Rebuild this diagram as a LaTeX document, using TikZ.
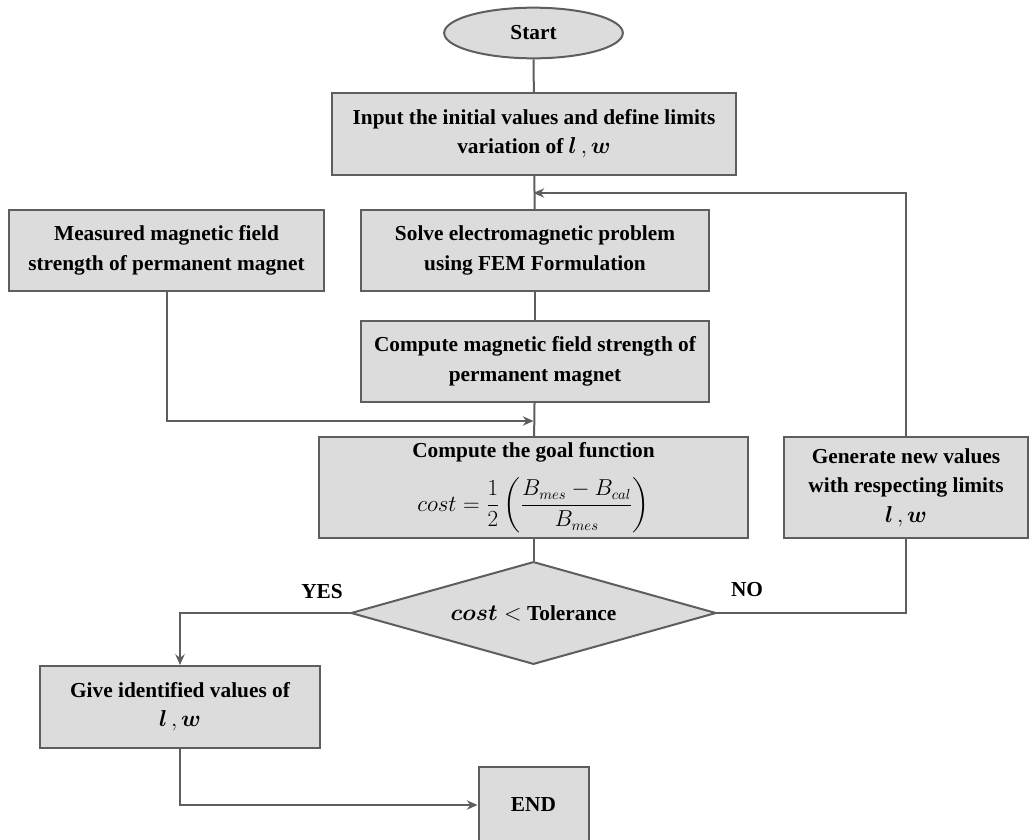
\documentclass[tikz,border=0pt]{standalone}
\usepackage{amsmath,bm}
\usepackage{fontspec}
\setmainfont{Liberation Serif}
\usetikzlibrary{shapes.geometric,arrows.meta}
\definecolor{linegray}{HTML}{5E5E5E}
\definecolor{boxgray}{HTML}{DCDCDC}
\begin{document}
\begin{tikzpicture}[x=0.75pt,y=-0.75pt,
    every node/.style={font=\fontsize{16}{22}\selectfont\bfseries, align=center},
    box/.style={rectangle, draw=linegray, fill=boxgray, line width=1.5pt, inner sep=0pt},
    startend/.style={ellipse, draw=linegray, fill=boxgray, line width=1.5pt, inner sep=0pt},
    decision/.style={diamond, shape aspect=3.5, draw=linegray, fill=boxgray, line width=1.5pt, inner sep=0pt},
    conn/.style={draw=linegray, line width=1.5pt},
    arr/.style={conn, -{Stealth[length=8pt,width=7pt]}}]
  \useasboundingbox (0,0) rectangle (1030,839);
  \node[startend, minimum width=134pt, minimum height=38pt] (start) at (533.5,33) {Start};
  \node[box, minimum width=303pt, minimum height=61.5pt] (input) at (534,134)
    {Input the initial values and define limits\\ variation of $\bm{l}\,,\bm{w}$};
  \node[box, minimum width=236pt, minimum height=61pt] (measured) at (166.5,250.5)
    {Measured magnetic field\\ strength of permanent magnet};
  \node[box, minimum width=261pt, minimum height=61pt] (solve) at (535,250.5)
    {Solve electromagnetic problem\\ using FEM Formulation};
  \node[box, minimum width=261pt, minimum height=61pt] (compute) at (535,361.5)
    {Compute magnetic field strength of\\ permanent magnet};
  \node[box, minimum width=322pt, minimum height=76pt] (goal) at (533.5,487.5)
    {Compute the goal function\\[11pt]
     \mdseries$cost = \dfrac{1}{2}\left(\dfrac{B_{mes}-B_{cal}}{B_{mes}}\right)$};
  \node[box, minimum width=183pt, minimum height=76pt] (generate) at (906,487.5)
    {Generate new values\\ with respecting limits\\ $\bm{l}\,,\bm{w}$};
  \node[decision, minimum width=274pt, minimum height=77pt] (test) at (533.5,613)
    {$\bm{cost} <$ Tolerance};
  \node[box, minimum width=210pt, minimum height=61.5pt] (give) at (180,707)
    {Give identified values of\\ $\bm{l}\,,\bm{w}$};
  \node[box, minimum width=82.5pt, minimum height=57pt] (end) at (533.5,805) {END};
  \coordinate (loopin) at (533.5,193);
  \coordinate (merge) at (533.5,421);
  \node (yes) at (322,592) {YES};
  \node (no) at (747,590) {NO};

  \draw[conn] (start) -- (input);
  \draw[conn] (input) -- (solve);
  \draw[conn] (solve) -- (compute);
  \draw[conn] (compute) -- (goal);
  \draw[conn] (goal) -- (test);
  \draw[arr] (generate.north) |- (loopin);
  \draw[arr] (measured.south) |- (merge);
  \draw[arr] (test.west) -| (give.north);
  \draw[conn] (test.east) -| (generate.south);
  \draw[arr] (give.south) |- (end.west);
\end{tikzpicture}
\end{document}
